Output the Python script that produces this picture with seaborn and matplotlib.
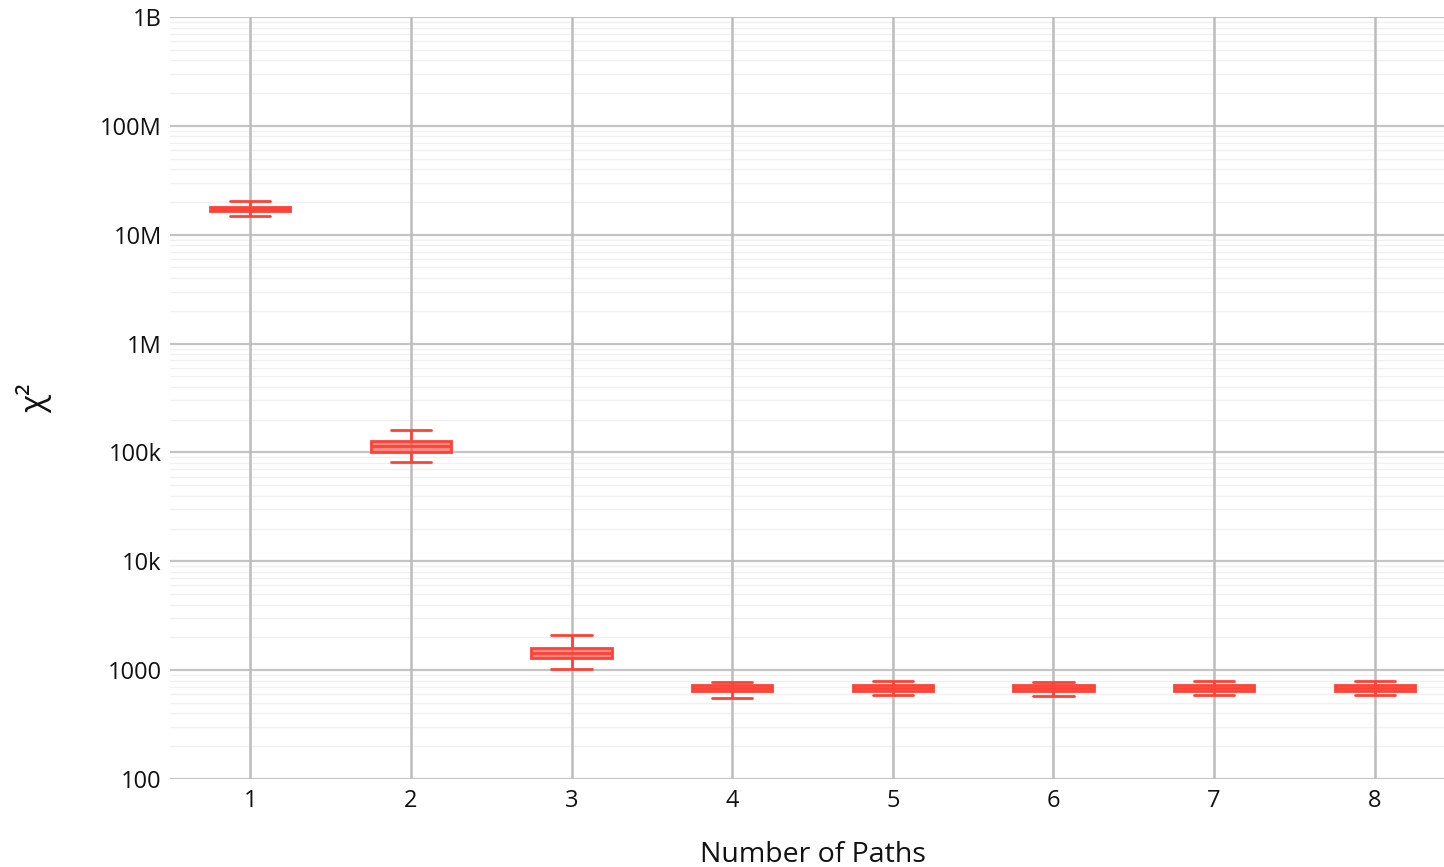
import numpy as np
import pandas as pd
import matplotlib
matplotlib.use("Agg")
import matplotlib.pyplot as plt
from matplotlib.ticker import LogLocator, FixedLocator, FixedFormatter, NullFormatter
import seaborn as sns

# Data: per number of paths, five-number summary (min, q1, median, q3, max)
paths = [1, 2, 3, 4, 5, 6, 7, 8]
mins    = [14.8e6, 82e3, 1024, 551, 590, 575, 585, 585]
q1s     = [16.4e6, 100e3, 1280, 647, 645, 645, 640, 645]
medians = [17.1e6, 114e3, 1426, 684, 680, 684, 680, 684]
q3s     = [17.9e6, 127e3, 1585, 729, 725, 729, 729, 729]
maxs    = [20.3e6, 161e3, 2100, 778, 795, 780, 800, 800]

ytick_vals = [1e2, 1e3, 1e4, 1e5, 1e6, 1e7, 1e8, 1e9]
ytick_labels = ["100", "1000", "10k", "100k", "1M", "10M", "100M", "1B"]

rows = []
for p, a, b, c, d, e in zip(paths, mins, q1s, medians, q3s, maxs):
    for v in (a, b, c, d, e):
        rows.append({"paths": p, "chi2": v})
df = pd.DataFrame(rows)

sns.set_theme(style="white")
plt.rcParams["font.family"] = ["Open Sans", "DejaVu Sans"]

W, H = 1444, 867
fig = plt.figure(figsize=(W / 100, H / 100), dpi=100)
left, right = 170, 1455
bottom, top = 779, 17
ax = fig.add_axes([left / W, (H - bottom) / H, (right - left) / W, (bottom - top) / H])
ax.set_yscale("log")

red = "#FF4136"
sns.boxplot(data=df, x="paths", y="chi2", ax=ax, color=red, saturation=1,
            width=0.5, whis=(0, 100), linecolor=red, linewidth=2,
            boxprops=dict(facecolor=(1.0, 0.255, 0.212, 0.6)),
            medianprops=dict(color=red, linewidth=2),
            showfliers=False, zorder=3)

ax.set_ylim(1e2, 1e9)
ax.set_xlim(-0.5, 7.5)
ax.yaxis.set_major_locator(FixedLocator(ytick_vals))
ax.yaxis.set_major_formatter(FixedFormatter(ytick_labels))
ax.yaxis.set_minor_locator(LogLocator(base=10, subs=range(2, 10), numticks=100))
ax.yaxis.set_minor_formatter(NullFormatter())

ax.grid(True, which="minor", axis="y", color="#f0f0f0", linewidth=1.0, zorder=0)
ax.grid(True, which="major", axis="y", color="#c4c4c4", linewidth=1.6, zorder=0)
ax.grid(False, axis="x")
for xt in ax.get_xticks():
    ax.axvline(xt, color="#bcbcbc", linewidth=1.8, zorder=1)
ax.set_axisbelow(True)
for s in ax.spines.values():
    s.set_visible(False)
ax.tick_params(axis="both", which="both", length=0, labelsize=17, colors="#111111", pad=6)
ax.tick_params(axis="x", pad=7)

ax.set_xlabel("Number of Paths", fontsize=20.5, color="#111111", labelpad=20)
ax.set_ylabel("χ²", fontsize=24, color="#111111", labelpad=34)

fig.savefig("out.png", dpi=100)
